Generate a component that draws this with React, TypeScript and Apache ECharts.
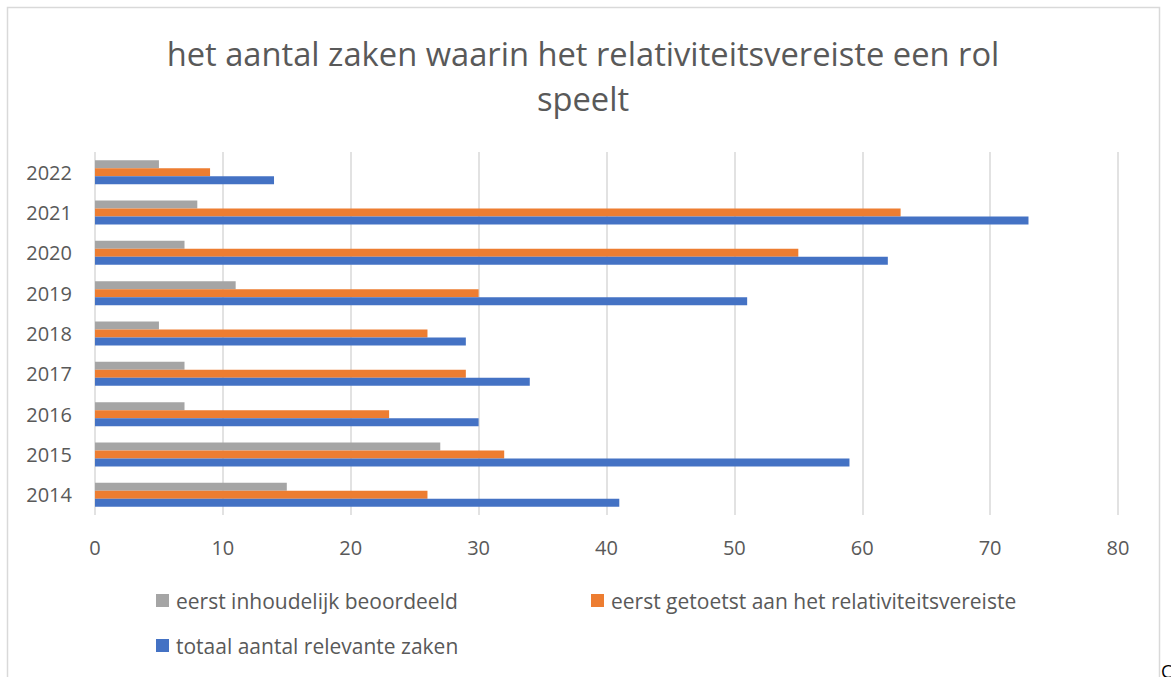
import React, { useEffect, useRef } from "react";
import * as echarts from "echarts";

const categories = ["2014", "2015", "2016", "2017", "2018", "2019", "2020", "2021", "2022"];
const beoordeeld = [15, 27, 7, 7, 5, 11, 7, 8, 5];
const getoetst = [26, 32, 23, 29, 26, 30, 55, 63, 9];
const totaal = [41, 59, 30, 34, 29, 51, 62, 73, 14];
const xTicks = [0, 10, 20, 30, 40, 50, 60, 70, 80];
const titleLines = ["het aantal zaken waarin het relativiteitsvereiste een rol", "speelt"];

const seriesNames = [
  "eerst inhoudelijk beoordeeld",
  "eerst getoetst aan het relativiteitsvereiste",
  "totaal aantal relevante zaken",
];
const colors = ["#A5A5A5", "#ED7D31", "#4472C4"];
const FONT = "Open Sans";
const TXT = "#595959";

export default function App() {
  const ref = useRef<HTMLDivElement>(null);
  useEffect(() => {
    if (!ref.current) return;
    const chart = echarts.init(ref.current, undefined, { renderer: "svg" });
    const legendBase = {
      orient: "horizontal" as const,
      itemWidth: 13,
      itemHeight: 13,
      itemGap: 8,
      icon: "rect",
      textStyle: { color: TXT, fontSize: 21, fontFamily: FONT, padding: [0, 0, 0, 2] },
      selectedMode: false,
    };
    const seriesData = [beoordeeld, getoetst, totaal];
    chart.setOption({
      animation: false,
      backgroundColor: "#ffffff",
      legend: [
        { ...legendBase, left: 151, top: 585, data: [seriesNames[0]] },
        { ...legendBase, left: 586, top: 585, data: [seriesNames[1]] },
        { ...legendBase, left: 151, top: 630, data: [seriesNames[2]] },
      ],
      grid: { left: 95, right: 53, top: 152, bottom: 162, containLabel: false },
      xAxis: {
        type: "value",
        min: 0,
        max: 80,
        interval: 10,
        axisLine: { show: false },
        axisTick: { show: false },
        splitLine: { lineStyle: { color: "#D9D9D9", width: 1.5 } },
        axisLabel: {
          color: TXT,
          fontSize: 20,
          fontFamily: FONT,
          margin: 22,
          formatter: (v: number) => (xTicks.includes(v) ? String(v) : ""),
        },
      },
      yAxis: {
        type: "category",
        data: categories,
        axisLine: { show: false },
        axisTick: { show: false },
        axisLabel: { color: TXT, fontSize: 20, fontFamily: FONT, margin: 23 },
      },
      series: seriesNames.map((name, i) => ({
        type: "bar",
        name,
        data: seriesData[i],
        barWidth: 8,
        barGap: "0%",
        itemStyle: { color: colors[i] },
      })),
      graphic: [
        {
          type: "rect",
          shape: { x: 7.5, y: 7.5, width: 1152, height: 700 },
          style: { fill: "none", stroke: "#D9D9D9", lineWidth: 1.5 },
          silent: true,
        },
        ...titleLines.map((t, i) => ({
          type: "text",
          x: 583,
          y: 53 + i * 45,
          style: {
            text: t,
            fill: TXT,
            fontSize: 32.7,
            fontFamily: FONT,
            textAlign: "center",
            textVerticalAlign: "middle",
          },
          silent: true,
        })),
        {
          type: "text",
          x: 1161,
          y: 662,
          style: { text: "C", fill: "#000000", fontSize: 18, fontFamily: FONT },
          silent: true,
        },
      ],
    });
    return () => chart.dispose();
  }, []);
  return (
    <div
      ref={ref}
      style={{ position: "fixed", left: 0, top: 0, width: 1171, height: 677 }}
    />
  );
}
